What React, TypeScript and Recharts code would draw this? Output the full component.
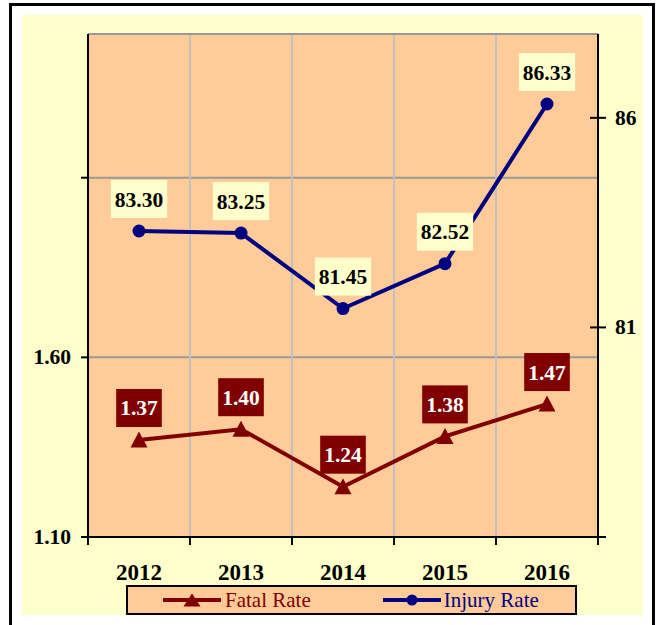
import React from 'react';
import {
  LineChart,
  Line,
  XAxis,
  YAxis,
  CartesianGrid,
  ReferenceLine,
  LabelList,
  Legend,
} from 'recharts';

const years = ['2012', '2013', '2014', '2015', '2016'];
const fatalRate = [1.37, 1.4, 1.24, 1.38, 1.47];
const injuryRate = [83.3, 83.25, 81.45, 82.52, 86.33];

const leftTicks = [1.1, 1.6, 2.1];
const leftTickLabels = ['1.10', '1.60', ''];
const rightTicks = [76, 81, 86];
const rightTickLabels = ['', '81', '86'];
const slotTicks = [0, 1, 2, 3, 4, 5];

const FONT = "'Liberation Serif', 'Times New Roman', serif";
const RED = '#800000';
const NAVY = '#000080';
const PEACH = '#FFCC99';
const CREAM = '#FFFFCC';

const RIGHT_TICK = 8;
const RIGHT_MARGIN = 9;

const data = years.map((year, i) => ({
  year,
  slot: i + 0.5,
  fatal: fatalRate[i],
  injury: injuryRate[i],
}));

// rough Times bold width, good enough for sizing label boxes
const textWidth = (s: string, size: number) =>
  s.split('').reduce((w, c) => w + (c === '.' ? 0.25 : 0.5), 0) * size;

const makeLabel = (fill: string, color: string) => (props: any) => {
  const x = props.x ?? props.viewBox?.x;
  const y = props.y ?? props.viewBox?.y;
  if (x == null || y == null) return null;
  const text = Number(props.value).toFixed(2);
  const w = textWidth(text, 21.5) + 8;
  const h = 38;
  const cy = y - 32;
  return (
    <g key={`lbl-${props.index}`}>
      <rect x={x - w / 2} y={cy - h / 2} width={w} height={h} fill={fill} />
      <text
        x={x}
        y={cy + 7.5}
        textAnchor="middle"
        fill={color}
        fontFamily={FONT}
        fontWeight="bold"
        fontSize={21.5}
      >
        {text}
      </text>
    </g>
  );
};

const TriangleDot = (props: any) => {
  const { cx, cy, index } = props;
  if (cx == null || cy == null) return <g key={`tri-${index}`} />;
  return (
    <polygon
      key={`tri-${index}`}
      points={`${cx},${cy - 8.5} ${cx - 8.5},${cy + 7.5} ${cx + 8.5},${cy + 7.5}`}
      fill={RED}
    />
  );
};

const noTick = () => <g />;

const yearTick = (props: any) => {
  const { x, y, payload } = props;
  return (
    <text
      x={x}
      y={y + 33}
      textAnchor="middle"
      fill="#000"
      fontFamily={FONT}
      fontWeight="bold"
      fontSize={23}
    >
      {payload.value}
    </text>
  );
};

const leftTick = (props: any) => {
  const { x, y, payload } = props;
  const label = leftTickLabels[leftTicks.indexOf(payload.value)] || '';
  return (
    <text x={x} y={y + 7} textAnchor="end" fill="#000" fontFamily={FONT} fontWeight="bold" fontSize={21.5}>
      {label}
    </text>
  );
};

// right axis ticks cross the axis line, so draw the inner half here
const rightTick = (props: any) => {
  const { x, y, payload } = props;
  const label = rightTickLabels[rightTicks.indexOf(payload.value)] || '';
  const axisX = x - RIGHT_TICK - RIGHT_MARGIN;
  return (
    <g>
      <line x1={axisX - RIGHT_TICK} y1={y} x2={axisX} y2={y} stroke="#000" strokeWidth={2} />
      <text x={x} y={y + 7} textAnchor="start" fill="#000" fontFamily={FONT} fontWeight="bold" fontSize={21.5}>
        {label}
      </text>
    </g>
  );
};

const renderLegend = () => (
  <div
    style={{
      boxSizing: 'border-box',
      height: 30,
      width: 451,
      border: '2px solid #000',
      background: PEACH,
      display: 'flex',
      alignItems: 'center',
      fontFamily: FONT,
      fontSize: 21,
    }}
  >
    <svg width={58} height={20} style={{ marginLeft: 35 }}>
      <line x1={0} y1={10} x2={58} y2={10} stroke={RED} strokeWidth={4} />
      <polygon points="29,3.5 20.5,16.5 37.5,16.5" fill={RED} />
    </svg>
    <span style={{ color: RED, marginLeft: 4 }}>Fatal Rate</span>
    <svg width={58} height={20} style={{ marginLeft: 72 }}>
      <line x1={0} y1={10} x2={58} y2={10} stroke={NAVY} strokeWidth={4} />
      <circle cx={29} cy={10} r={5.5} fill={NAVY} />
    </svg>
    <span style={{ color: NAVY, marginLeft: 3 }}>Injury Rate</span>
  </div>
);

export default function App() {
  return (
    <div
      style={{
        position: 'absolute',
        left: 9,
        top: 3,
        width: 640,
        height: 640,
        border: '3px solid #000',
        background: '#fff',
      }}
    >
      <div style={{ position: 'absolute', left: 10, top: 9, width: 621, height: 600, background: CREAM }}>
        <LineChart width={621} height={600} data={data} margin={{ top: 19, right: 0, bottom: 0, left: 0 }}>
          <CartesianGrid yAxisId="left" fill={PEACH} vertical={false} stroke="#999999" strokeWidth={2} />
          <CartesianGrid yAxisId="left" horizontal={false} stroke="#C0C0C0" strokeWidth={2} />
          <ReferenceLine yAxisId="left" y={2.5} stroke="#999999" strokeWidth={2} />
          <XAxis
            type="number"
            dataKey="slot"
            domain={[0, 5]}
            ticks={slotTicks}
            tick={noTick}
            tickSize={8}
            height={10}
            interval={0}
            axisLine={{ stroke: '#000', strokeWidth: 2 }}
            tickLine={{ stroke: '#000', strokeWidth: 2 }}
          />
          <XAxis
            xAxisId="lbl"
            type="category"
            dataKey="year"
            scale="band"
            height={38}
            axisLine={false}
            tickLine={false}
            tickSize={0}
            tickMargin={0}
            tick={yearTick}
            interval={0}
          />
          <YAxis
            yAxisId="left"
            width={66}
            domain={[1.1, 2.5]}
            ticks={leftTicks}
            tickSize={7}
            tickMargin={10}
            tick={leftTick}
            axisLine={{ stroke: '#000', strokeWidth: 2 }}
            tickLine={{ stroke: '#000', strokeWidth: 2 }}
            interval={0}
          />
          <YAxis
            yAxisId="right"
            orientation="right"
            width={45}
            domain={[76, 88]}
            ticks={rightTicks}
            tickSize={RIGHT_TICK}
            tickMargin={RIGHT_MARGIN}
            tick={rightTick}
            axisLine={{ stroke: '#000', strokeWidth: 2 }}
            tickLine={{ stroke: '#000', strokeWidth: 2 }}
            interval={0}
          />
          <Line
            yAxisId="right"
            dataKey="injury"
            name="Injury Rate"
            stroke={NAVY}
            strokeWidth={4}
            dot={{ r: 6.5, fill: NAVY, stroke: 'none' }}
            isAnimationActive={false}
          >
            <LabelList dataKey="injury" content={makeLabel(CREAM, '#000')} />
          </Line>
          <Line
            yAxisId="left"
            dataKey="fatal"
            name="Fatal Rate"
            stroke={RED}
            strokeWidth={4}
            dot={TriangleDot}
            isAnimationActive={false}
          >
            <LabelList dataKey="fatal" content={makeLabel(RED, '#fff')} />
          </Line>
          <Legend
            verticalAlign="bottom"
            content={renderLegend}
            wrapperStyle={{ left: 104, width: 451, bottom: 0 }}
          />
        </LineChart>
      </div>
    </div>
  );
}
